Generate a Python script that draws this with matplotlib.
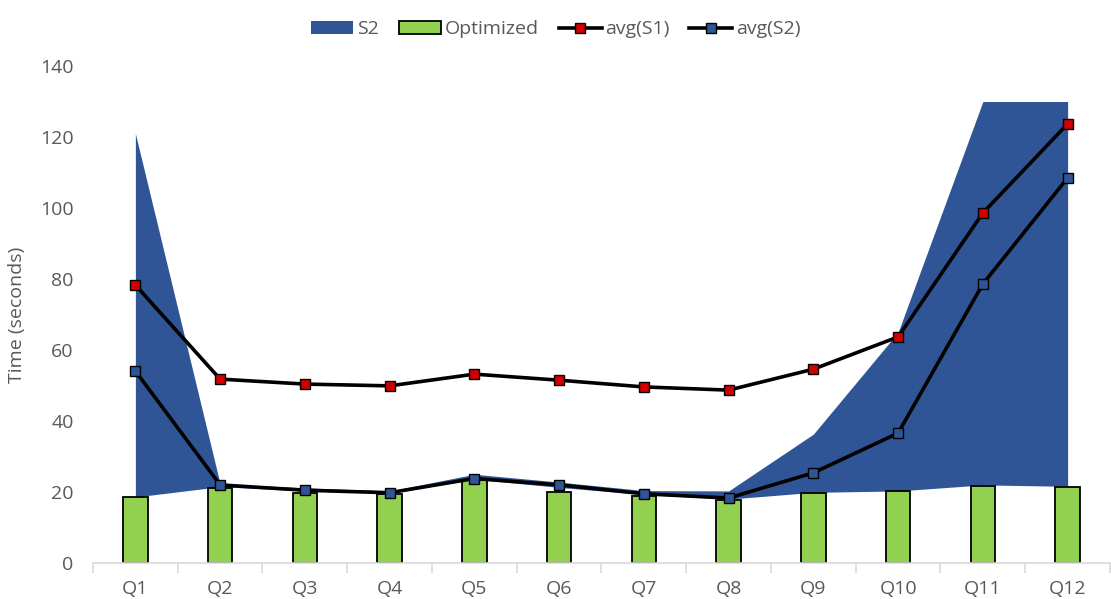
import matplotlib.pyplot as plt
import numpy as np
from matplotlib.patches import Patch
from matplotlib.lines import Line2D

plt.rcParams['font.family'] = ['Open Sans', 'DejaVu Sans']

queries = ["Q1", "Q2", "Q3", "Q4", "Q5", "Q6", "Q7", "Q8", "Q9", "Q10", "Q11", "Q12"]
s2_min = [18.6, 21.5, 20.3, 19.6, 23.6, 21.3, 19.3, 18.0, 19.9, 20.3, 22.0, 21.6]
s2_max = [121.0, 22.3, 21.2, 20.3, 25.0, 22.8, 20.4, 20.3, 36.3, 65.0, 130.0, 130.0]
optimized = [18.6, 21.1, 19.7, 19.3, 23.5, 20.0, 19.0, 17.7, 19.7, 20.3, 21.7, 21.4]
avg_s1 = [78.3, 51.8, 50.4, 49.9, 53.2, 51.5, 49.6, 48.7, 54.6, 63.7, 98.6, 123.7]
avg_s2 = [54.1, 22.0, 20.5, 19.8, 23.8, 22.0, 19.5, 18.3, 25.4, 36.6, 78.6, 108.5]

blue = "#2F5597"
green = "#92D050"
red = "#D00000"
grey = "#595959"

fig = plt.figure(figsize=(11.11, 5.99), dpi=100)
ax = fig.add_axes([0.0837, 0.0601, 0.9154, 0.8297])

x = np.arange(len(queries))

# S2 range as a band
ax.fill_between(x, s2_min, s2_max, color=blue, linewidth=0, zorder=1)

# optimized bars
ax.bar(x, optimized, width=0.29, color=green, edgecolor="black", linewidth=1.3, zorder=2)

# averages
ax.plot(x, avg_s1, color="black", linewidth=2.6, marker="s", markersize=7,
        markerfacecolor=red, markeredgecolor="black", markeredgewidth=1.0, zorder=3)
ax.plot(x, avg_s2, color="black", linewidth=2.6, marker="s", markersize=7,
        markerfacecolor=blue, markeredgecolor="black", markeredgewidth=1.0, zorder=3)

ax.set_xlim(-0.5, len(queries) - 0.5)
ax.set_ylim(0, 140)
ax.set_yticks(range(0, 141, 20))
ax.set_xticks(x)
ax.set_xticklabels(queries)
ax.set_xticks(np.arange(-0.5, len(queries), 1.0), minor=True)
ax.tick_params(axis="x", which="major", length=0, pad=12, labelsize=14, labelcolor=grey)
ax.tick_params(axis="x", which="minor", length=7, color="#D9D9D9", width=1.2)
ax.tick_params(axis="y", length=0, pad=14, labelsize=14, labelcolor=grey)

for side in ["left", "right", "top"]:
    ax.spines[side].set_visible(False)
ax.spines["bottom"].set_color("#D9D9D9")
ax.spines["bottom"].set_linewidth(1.2)

ax.set_ylabel("Time (seconds)", fontsize=14, color=grey, labelpad=10)

handles = [
    Patch(facecolor=blue, edgecolor="none", label="S2"),
    Patch(facecolor=green, edgecolor="black", linewidth=1.3, label="Optimized"),
    Line2D([0], [0], color="black", linewidth=2.6, marker="s", markersize=7,
           markerfacecolor=red, markeredgecolor="black", label="avg(S1)"),
    Line2D([0], [0], color="black", linewidth=2.6, marker="s", markersize=7,
           markerfacecolor=blue, markeredgecolor="black", label="avg(S2)"),
]
leg = fig.legend(handles=handles, loc="upper center", bbox_to_anchor=(0.5, 0.995), ncol=4,
                 frameon=False, fontsize=14, handlelength=2.2, handletextpad=0.2, columnspacing=1.0)
for t in leg.get_texts():
    t.set_color(grey)

fig.savefig("out.png", dpi=100)
